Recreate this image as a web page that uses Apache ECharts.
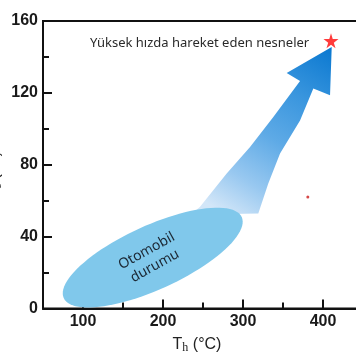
<!DOCTYPE html>
<html>
<head>
<meta charset="utf-8">
<script src="https://cdn.jsdelivr.net/npm/echarts@6/dist/echarts.min.js"></script>
<style>
html,body{margin:0;padding:0;background:#fff;}
#chart{width:356px;height:364px;}
</style>
</head>
<body>
<div id="chart"></div>
<script>
// ---- data ----
const xMajorTicks = [100, 200, 300, 400];
const xMinorTicks = [150, 250, 350];
const yMajorTicks = [40, 80, 120];
const yMinorTicks = [20, 60, 100, 140];
const starPoint = [[410, 149]];
const dotPoint = [[381, 62]];
// major axis endpoints of the "Otomobil durumu" ellipse (data units)
const ellipseAxis = [[75.9, 5.8, 298.4, 50.9]];
const ellipseLabel = ['Otomobil', 'durumu'];
// outline of the gradient arrow (data units)
const arrowOutline = [
  [410.9, 145.5], [408.8, 118.7], [387.9, 122.4], [371.3, 104.6],
  [346.3, 86.3], [331.6, 69.6], [319.1, 52.9],
  [235.0, 52.2], [246.3, 56.6], [279.6, 75.2], [308.8, 89.9],
  [337.9, 106.6], [371.3, 126.6], [354.6, 131.1]
];
const annotationText = 'Yüksek hızda hareket eden nesneler';

const chart = echarts.init(document.getElementById('chart'), null, {renderer: 'canvas'});
const axisColor = '#111';
const labelFont = {fontFamily: 'Liberation Sans', fontWeight: 'bold', fontSize: 16, color: '#1a1a1a'};

const option = {
  animation: false,
  backgroundColor: '#fff',
  grid: {left: 43, right: -7, top: 21, bottom: 55.5, show: true, borderColor: axisColor, borderWidth: 2,
         containLabel: false, outerBoundsMode: 'none'},
  xAxis: [
    {
      type: 'value', min: 50, max: 450, interval: 50, position: 'bottom',
      axisLine: {show: true, lineStyle: {color: axisColor, width: 2}},
      axisTick: {show: true, inside: true, length: 9, customValues: xMajorTicks, lineStyle: {color: axisColor, width: 2}},
      axisLabel: Object.assign({margin: 5, formatter: v => (v % 100 === 0 && v >= 100 && v <= 400) ? String(v) : ''}, labelFont),
      splitLine: {show: false}
    },
    {
      type: 'value', min: 50, max: 450, interval: 50, position: 'bottom',
      axisLine: {show: false},
      axisTick: {show: true, inside: true, length: 6, customValues: xMinorTicks, lineStyle: {color: axisColor, width: 2}},
      axisLabel: {show: false},
      splitLine: {show: false}
    }
  ],
  yAxis: [
    {
      type: 'value', min: 0, max: 160, interval: 40, position: 'left',
      axisLine: {show: true, lineStyle: {color: axisColor, width: 2}},
      axisTick: {show: true, inside: true, length: 9, customValues: yMajorTicks, lineStyle: {color: axisColor, width: 2}},
      axisLabel: Object.assign({margin: 5}, labelFont),
      splitLine: {show: false}
    },
    {
      type: 'value', min: 0, max: 160, interval: 20, position: 'left',
      axisLine: {show: false},
      axisTick: {show: true, inside: true, length: 6, customValues: yMinorTicks, lineStyle: {color: axisColor, width: 2}},
      axisLabel: {show: false},
      splitLine: {show: false}
    }
  ],
  graphic: [
    {
      type: 'text', x: 197, y: 345, z: 100,
      style: {
        text: '{a|T}{b|h}{a| (°C)}',
        align: 'center', verticalAlign: 'middle',
        rich: {
          a: {fontSize: 16, fontFamily: 'Liberation Sans', fill: '#222', color: '#222'},
          b: {fontSize: 12, fontFamily: 'Liberation Serif', fill: '#222', color: '#222', verticalAlign: 'bottom', padding: [5, 0, 0, 0]}
        }
      }
    },
    {
      type: 'text', x: -5, y: 175, rotation: Math.PI / 2, z: 100,
      style: {
        text: '{a|T}{b|c}{a| (°C)}',
        align: 'center', verticalAlign: 'middle',
        rich: {
          a: {fontSize: 16, fontFamily: 'Liberation Sans', fill: '#222', color: '#222'},
          b: {fontSize: 12, fontFamily: 'Liberation Serif', fill: '#222', color: '#222', verticalAlign: 'bottom', padding: [5, 0, 0, 0]}
        }
      }
    },
    {
      type: 'text', x: 90, y: 43, z: 100,
      style: {text: annotationText, fontSize: 13, fontFamily: 'Noto Sans', fill: '#2a2a2a', align: 'left', verticalAlign: 'middle'}
    }
  ],
  series: [
    {
      type: 'custom', xAxisIndex: 0, yAxisIndex: 0, z: 2,
      data: arrowOutline,
      renderItem: function (params, api) {
        if (params.dataIndex !== 0) return null;
        const pts = arrowOutline.map(p => api.coord(p));
        return {
          type: 'polygon',
          shape: {points: pts},
          style: {
            fill: new echarts.graphic.LinearGradient(0.25, 1, 1, 0, [
              {offset: 0, color: '#d2e6f8'},
              {offset: 0.2, color: '#98c8f0'},
              {offset: 0.45, color: '#5eaae6'},
              {offset: 0.7, color: '#3a96de'},
              {offset: 1, color: '#0a78d0'}
            ]),
            stroke: null
          }
        };
      }
    },
    {
      type: 'custom', xAxisIndex: 0, yAxisIndex: 0, z: 3,
      data: ellipseAxis,
      renderItem: function (params, api) {
        const p1 = api.coord([api.value(0), api.value(1)]);
        const p2 = api.coord([api.value(2), api.value(3)]);
        const cx = (p1[0] + p2[0]) / 2, cy = (p1[1] + p2[1]) / 2;
        const a = Math.hypot(p2[0] - p1[0], p2[1] - p1[1]) / 2;
        const b = 32;
        const ang = Math.atan2(p2[1] - p1[1], p2[0] - p1[0]);
        const pts = [];
        for (let i = 0; i < 96; i++) {
          const t = i / 96 * Math.PI * 2;
          const ex = a * Math.cos(t), ey = b * Math.sin(t);
          pts.push([cx + ex * Math.cos(ang) - ey * Math.sin(ang), cy + ex * Math.sin(ang) + ey * Math.cos(ang)]);
        }
        return {
          type: 'group',
          children: [
            {type: 'polygon', shape: {points: pts}, style: {fill: '#80c8eb', stroke: null}},
            {
              type: 'text', x: cx - 2, y: cy + 1, rotation: 29 * Math.PI / 180,
              style: {
                text: ellipseLabel.join('\n'), fontSize: 14, lineHeight: 17, fontFamily: 'Noto Sans',
                fill: '#1b2733', align: 'center', verticalAlign: 'middle'
              }
            }
          ]
        };
      }
    },
    {
      type: 'scatter', xAxisIndex: 0, yAxisIndex: 0, z: 5,
      data: starPoint,
      symbol: 'path://M50,0 L61,35 L98,35 L68,57 L79,91 L50,70 L21,91 L32,57 L2,35 L39,35 Z',
      symbolSize: 15,
      itemStyle: {color: '#ff0a0a'}
    },
    {
      type: 'scatter', xAxisIndex: 0, yAxisIndex: 0, z: 5,
      data: dotPoint, symbol: 'circle', symbolSize: 3,
      itemStyle: {color: '#cc1a1a'}
    }
  ]
};
chart.setOption(option);
</script>
</body>
</html>
